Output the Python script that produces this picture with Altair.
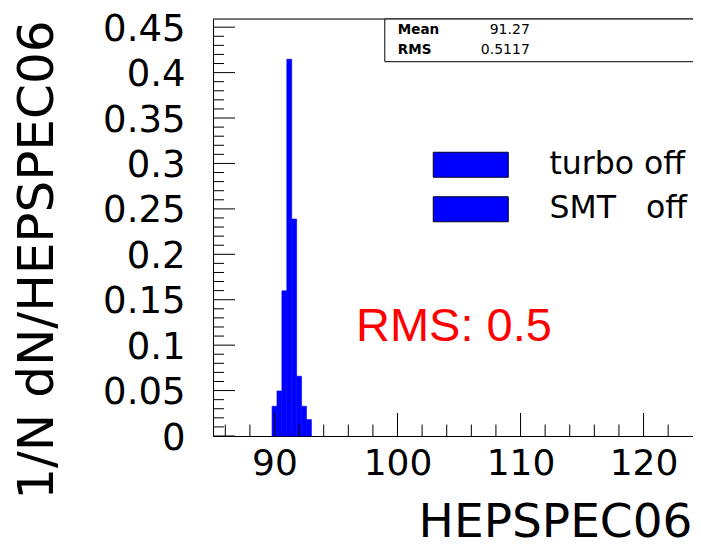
import altair as alt
import pandas as pd

# ---- data ----
bin_low = [89.8, 90.2, 90.6, 91.0, 91.4, 91.8, 92.2, 92.6]
bin_high = [90.2, 90.6, 91.0, 91.4, 91.8, 92.2, 92.6, 93.0]
fraction = [0.0327, 0.0496, 0.1598, 0.4147, 0.2388, 0.0658, 0.0327, 0.0181]
legend_labels = ["turbo off", "SMT\u00a0\u00a0\u00a0off"]
x_major = [90, 100, 110, 120]
x_minor = [86, 88, 92, 94, 96, 98, 102, 104, 106, 108, 112, 114, 116, 118, 122]
y_major = [0, 0.05, 0.1, 0.15, 0.2, 0.25, 0.3, 0.35, 0.4, 0.45]
y_minor = [round(i * 0.01, 2) for i in range(46) if i % 5 != 0]
stats_names = ["Mean", "RMS"]
stats_values = ["91.27", "0.5117"]
annotation = ["RMS: 0.5"]
x_title = "HEPSPEC06"
y_title = "1/N dN/HEPSPEC06"

W, H = 480, 417
x_scale = alt.Scale(domain=[85, 124.02], nice=False, zero=False)
y_scale = alt.Scale(domain=[0, 0.459], nice=False, zero=False)

hist = pd.DataFrame({"lo": bin_low, "hi": bin_high, "frac": fraction,
                     "series": [legend_labels[0]] * len(fraction)})

x_axis = alt.Axis(values=x_major, format="d", title=x_title, ticks=False, tickSize=0,
                  domain=True, domainColor="black", domainWidth=1, grid=False,
                  labelFont="DejaVu Sans", labelFontSize=36,
                  labelColor="black", labelPadding=10, labelBaseline="top",
                  titleFont="DejaVu Sans", titleFontSize=47, titleFontWeight="normal",
                  titleColor="black", titleX=479, titleY=100, titleAlign="right",
                  titleBaseline="alphabetic", titleAngle=0)
y_axis = alt.Axis(values=y_major, format="~g", title=y_title, ticks=False, tickSize=0,
                  domain=True, domainColor="black", domainWidth=1, grid=False,
                  labelFont="DejaVu Sans", labelFontSize=37, labelOffset=2,
                  labelColor="black", labelPadding=28, labelBaseline="middle",
                  titleFont="DejaVu Sans", titleFontSize=50, titleFontWeight="normal",
                  titleColor="black", titleX=-161, titleY=1, titleAngle=-90,
                  titleAlign="right", titleBaseline="alphabetic")

bars = alt.Chart(hist).mark_rect(opacity=1, stroke="#0000ff", strokeWidth=0.6).encode(
    x=alt.X("lo:Q", scale=x_scale, axis=x_axis),
    x2="hi:Q",
    y=alt.Y("frac:Q", scale=y_scale, axis=y_axis),
    y2=alt.datum(0),
    color=alt.Color("series:N",
                    scale=alt.Scale(domain=legend_labels, range=["#0000ff", "#0000ff"]),
                    legend=alt.Legend(title=None, orient="none", legendX=242, legendY=130,
                                      symbolType="M-3,-1H3V1H-3Z", symbolSize=625,
                                      symbolStrokeColor="#000022", symbolStrokeWidth=1,
                                      symbolOpacity=1, labelFont="DejaVu Sans",
                                      labelFontSize=31.5, labelColor="black",
                                      labelOffset=63, rowPadding=11.5, padding=0,
                                      labelLimit=400)),
)

xmaj = pd.DataFrame({"t": x_major})
xmin = pd.DataFrame({"t": x_minor})
ymaj = pd.DataFrame({"t": y_major})
ymin = pd.DataFrame({"t": y_minor})

rule_kw = dict(color="black", strokeWidth=1)
xt_major = alt.Chart(xmaj).mark_rule(**rule_kw).encode(
    x=alt.X("t:Q", scale=x_scale), y=alt.value(H), y2=alt.value(H - 23))
xt_minor = alt.Chart(xmin).mark_rule(**rule_kw).encode(
    x=alt.X("t:Q", scale=x_scale), y=alt.value(H), y2=alt.value(H - 11.5))
yt_major = alt.Chart(ymaj).mark_rule(**rule_kw).encode(
    y=alt.Y("t:Q", scale=y_scale), x=alt.value(0), x2=alt.value(22))
yt_minor = alt.Chart(ymin).mark_rule(**rule_kw).encode(
    y=alt.Y("t:Q", scale=y_scale), x=alt.value(0), x2=alt.value(11))

one = pd.DataFrame({"k": [0]})
top_frame = alt.Chart(one).mark_rule(color="black", strokeWidth=1).encode(
    x=alt.value(0), x2=alt.value(W), y=alt.value(0))
stats_box = alt.Chart(one).mark_rect(fill="white", stroke="black", strokeWidth=1).encode(
    x=alt.value(171.8), x2=alt.value(500), y=alt.value(0), y2=alt.value(42.7))

stats_layers = []
row_y = [11, 31]
for i in range(len(stats_names)):
    d = pd.DataFrame({"name": [stats_names[i]], "val": [stats_values[i]]})
    stats_layers.append(alt.Chart(d).mark_text(
        font="DejaVu Sans", fontSize=13.5, fontWeight="bold", color="black",
        align="left", baseline="middle").encode(
        text="name:N", x=alt.value(184.8), y=alt.value(row_y[i])))
    stats_layers.append(alt.Chart(d).mark_text(
        font="DejaVu Sans", fontSize=14, color="black",
        align="right", baseline="middle").encode(
        text="val:N", x=alt.value(316.8), y=alt.value(row_y[i])))

ann = alt.Chart(pd.DataFrame({"txt": annotation})).mark_text(
    font="Liberation Sans", fontSize=47, color="#ff0000", align="left",
    baseline="alphabetic").encode(text="txt:N", x=alt.value(143), y=alt.value(321.7))

chart = alt.layer(bars, xt_minor, xt_major, yt_minor, yt_major, top_frame, stats_box,
                  *stats_layers, ann).properties(
    width=W, height=H,
    autosize=alt.AutoSizeParams(type="none"),
    padding={"left": 205, "top": 11, "right": 0, "bottom": 110},
).configure_view(stroke="transparent").configure(background="white")

chart.save("out.html", embed_options={"renderer": "svg", "actions": False})
